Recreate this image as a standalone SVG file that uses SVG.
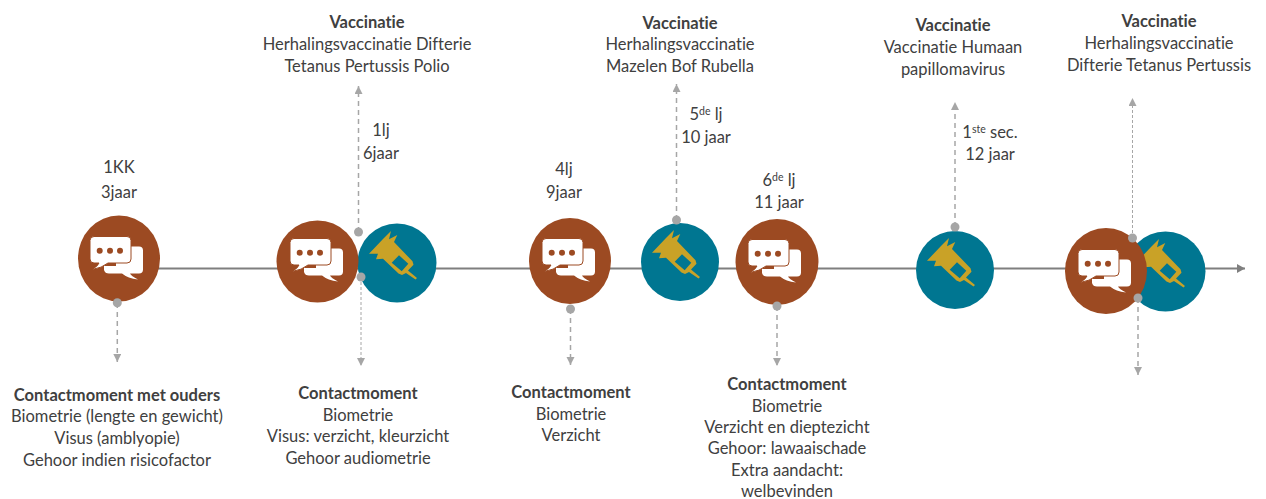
<svg xmlns="http://www.w3.org/2000/svg" width="1266" height="499" viewBox="0 0 1266 499">
<style>
text{font-family:"Lato","Carlito","Open Sans",sans-serif;font-size:16.5px;fill:#404040;text-anchor:middle;font-variant-ligatures:none}
.b{font-weight:700}
.s{font-size:10.500px}
.brown{fill:#9c4a22}
.teal{fill:#007691}
.dash{fill:none;stroke:#a6a6a6;stroke-width:1.5;stroke-dasharray:5 4}
.thin{stroke-width:1;stroke-dasharray:3 2}
.dot{fill:#a6a6a6}
</style>
<defs>
<marker id="ah" markerUnits="userSpaceOnUse" markerWidth="10" markerHeight="10" refX="8" refY="4" orient="auto"><path d="M0 0L8 4L0 8Z" fill="#a6a6a6"/></marker>
<marker id="am" markerUnits="userSpaceOnUse" markerWidth="10" markerHeight="12" refX="8" refY="4.5" orient="auto"><path d="M0 0L8 4.500L0 9Z" fill="#7f7f7f"/></marker>
<g id="chat">
<path d="M-15 8H-3V-11.500H20Q24 -11.500 24 -7.500V11.500Q24 15.500 20 15.500H11Q12 18 19 21.500Q9 20.500 3 15.500H-10Q-14 15.500 -15 12Z" fill="#fff"/>
<path d="M-25 -21.500H8Q12 -21.500 12 -17.500V1Q12 5 8 5H-11Q-17 10 -27 11.500Q-21 8 -20 5H-25Q-29 5 -29 1V-17.500Q-29 -21.500 -25 -21.500Z" fill="#fff" stroke="#9c4a22" stroke-width="1"/>
<circle cx="-19.300" cy="-7.300" r="3" fill="#9c4a22"/><circle cx="-9" cy="-7.300" r="3" fill="#9c4a22"/><circle cx="1" cy="-7.300" r="3" fill="#9c4a22"/>
</g>
<path id="syr" fill="#c9a227" fill-rule="evenodd" d="M-28 -9.300L-14 -24L-6 -32L-8 -23.700L0.300 -28L-3 -21L15.500 -1.700L16.500 1.700L11 7.500L20 15L18.500 16.500L9 10L5 12L1.500 10.500L-14 -4.300L-21 -3.800L-19 -9.300ZM2 -7.700L-5.300 -0.300L4.700 8.300L11.300 0.700Z"/>
</defs>
<g id="connectors">
<path d="M119 268.500H1245" fill="none" stroke="#7f7f7f" stroke-width="2" marker-end="url(#am)"/>
<path class="dash" d="M117.300 303V362" marker-end="url(#ah)"/>
<path class="dash" d="M358.500 232V86" marker-end="url(#ah)"/>
<path class="dash thin" d="M361 277V366" marker-end="url(#ah)"/>
<path class="dash" d="M570.500 309V365" marker-end="url(#ah)"/>
<path class="dash" d="M676.500 220V84" marker-end="url(#ah)"/>
<path class="dash" d="M777 306V366" marker-end="url(#ah)"/>
<path class="dash" d="M955 227V102" marker-end="url(#ah)"/>
<path class="dash thin" d="M1132.500 238V98" marker-end="url(#ah)"/>
<path class="dash" d="M1138 298V375" marker-end="url(#ah)"/>
</g>
<g id="node-1kk"><ellipse class="brown" cx="119" cy="258.500" rx="41" ry="43"/><use href="#chat" x="119" y="258"/></g>
<g id="node-1lj-vac"><circle class="teal" cx="397" cy="263" r="39.500"/><use href="#syr" x="397" y="263"/></g>
<g id="node-1lj"><ellipse class="brown" cx="317.500" cy="261.500" rx="41" ry="41"/><use href="#chat" x="319" y="260"/></g>
<g id="node-4lj"><ellipse class="brown" cx="570" cy="261" rx="41" ry="43"/><use href="#chat" x="571" y="260"/></g>
<g id="node-5lj-vac"><circle class="teal" cx="680" cy="262" r="39"/><use href="#syr" x="680" y="262"/></g>
<g id="node-6lj"><ellipse class="brown" cx="777" cy="262" rx="41.500" ry="43"/><use href="#chat" x="777" y="261"/></g>
<g id="node-1sec-vac"><circle class="teal" cx="955" cy="270" r="39"/><use href="#syr" x="955" y="270"/></g>
<g id="node-last-vac"><circle class="teal" cx="1165.500" cy="271.500" r="40"/><use href="#syr" x="1165" y="271"/></g>
<g id="node-last"><ellipse class="brown" cx="1106" cy="271" rx="41" ry="43"/><use href="#chat" x="1107" y="271"/></g>
<g id="dots">
<circle class="dot" cx="117.300" cy="302.700" r="4.500"/><circle class="dot" cx="358.500" cy="232" r="4.500"/><circle class="dot" cx="361" cy="277" r="4.500"/><circle class="dot" cx="570.500" cy="309" r="4.500"/><circle class="dot" cx="676.500" cy="220" r="4.500"/><circle class="dot" cx="777" cy="306" r="4.500"/><circle class="dot" cx="955" cy="227" r="4.500"/><circle class="dot" cx="1132.500" cy="238" r="4.500"/><circle class="dot" cx="1138" cy="298" r="4.500"/>
</g>
<g id="labels">
<text x="119" y="172.500">1KK</text><text x="119" y="197.500">3jaar</text>
<text x="381" y="135.500">1lj</text><text x="381" y="158.500">6jaar</text>
<text x="564" y="174.500">4lj</text><text x="564" y="197.500">9jaar</text>
<text x="706" y="119.500">5<tspan class="s" dy="-5">de</tspan><tspan dy="5"> lj</tspan></text><text x="706" y="142.500">10 jaar</text>
<text x="779" y="185.500">6<tspan class="s" dy="-5">de</tspan><tspan dy="5"> lj</tspan></text><text x="779" y="207.500">11 jaar</text>
<text x="990" y="137.500">1<tspan class="s" dy="-5">ste</tspan><tspan dy="5"> sec.</tspan></text><text x="990" y="159.500">12 jaar</text>
<text class="b" x="367" y="27.500">Vaccinatie</text><text x="367" y="49.500">Herhalingsvaccinatie Difterie</text><text x="367" y="71.500">Tetanus Pertussis Polio</text>
<text class="b" x="680" y="28.500">Vaccinatie</text><text x="680" y="49.500">Herhalingsvaccinatie</text><text x="680" y="71.500">Mazelen Bof Rubella</text>
<text class="b" x="953" y="30.500">Vaccinatie</text><text x="953" y="52.500">Vaccinatie Humaan</text><text x="953" y="74.500">papillomavirus</text>
<text class="b" x="1159" y="26.500">Vaccinatie</text><text x="1159" y="48.500">Herhalingsvaccinatie</text><text x="1159" y="70.500">Difterie Tetanus Pertussis</text>
<text class="b" x="117" y="401">Contactmoment met ouders</text><text x="117" y="422">Biometrie (lengte en gewicht)</text><text x="117" y="444">Visus (amblyopie)</text><text x="117" y="466">Gehoor indien risicofactor</text>
<text class="b" x="358" y="399">Contactmoment</text><text x="358" y="421">Biometrie</text><text x="358" y="442">Visus: verzicht, kleurzicht</text><text x="358" y="464">Gehoor audiometrie</text>
<text class="b" x="571" y="398">Contactmoment</text><text x="571" y="420">Biometrie</text><text x="571" y="441">Verzicht</text>
<text class="b" x="787" y="390">Contactmoment</text><text x="787" y="412">Biometrie</text><text x="787" y="433">Verzicht en dieptezicht</text><text x="787" y="454">Gehoor: lawaaischade</text><text x="787" y="475.500">Extra aandacht:</text><text x="787" y="496.500">welbevinden</text>
</g>
</svg>
